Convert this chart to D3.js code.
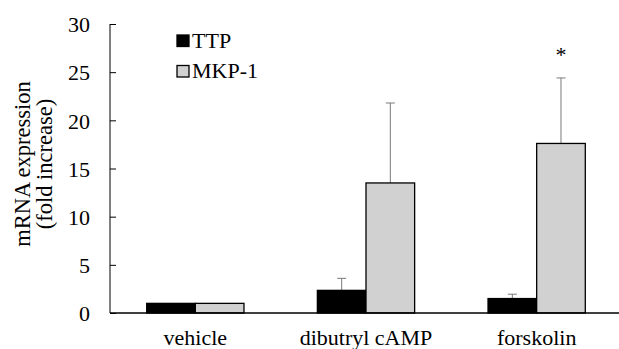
<!DOCTYPE html>
<meta charset="utf-8">
<script src="https://d3js.org/d3.v7.min.js"></script>
<style>
  body { margin: 0; background: #fff; }
  svg text { font-family: "Liberation Serif", "Times New Roman", serif; fill: #000; }
</style>
<div id="chart"></div>
<script>

// data
var groups = ["vehicle", "dibutryl cAMP", "forskolin"];
var series = ["TTP", "MKP-1"];
var ttp = [1.0, 2.35, 1.5];
var ttpErr = [0, 1.25, 0.45];
var mkp = [1.0, 13.5, 17.6];
var mkpErr = [0, 8.3, 6.8];
var yTicks = [0, 5, 10, 15, 20, 25, 30];
var stars = ["", "", "*"];

var colors = {"TTP": "#000000", "MKP-1": "#d0d1d0"};

var W = 619, H = 349;
var svg = d3.select("#chart").append("svg")
    .attr("width", W)
    .attr("height", H)
    .attr("font-family", "Liberation Serif");

// scales
var x = d3.scaleBand()
    .domain(groups)
    .range([110, 622])
    .paddingInner(0.43)
    .paddingOuter(0.215);

var xs = d3.scaleBand()
    .domain(series)
    .range([0, x.bandwidth()]);

var y = d3.scaleLinear()
    .domain([0, 30])
    .range([313, 24]);

// build rows for the bars
var rows = [];
groups.forEach(function(g, i) {
  rows.push({group: g, s: "TTP", v: ttp[i], e: ttpErr[i]});
  rows.push({group: g, s: "MKP-1", v: mkp[i], e: mkpErr[i]});
});

// error bars (drawn first so bar outline sits on top)
var eb = svg.append("g").selectAll("g")
  .data(rows.filter(function(d){ return d.e > 0 }))
  .enter().append("g")
    .attr("stroke", "#7a7a7a")
    .attr("stroke-width", 1);
eb.append("line")
    .attr("x1", function(d){ return x(d.group) + xs(d.s) + xs.bandwidth()/2 })
    .attr("x2", function(d){ return x(d.group) + xs(d.s) + xs.bandwidth()/2 })
    .attr("y1", function(d){ return y(d.v) })
    .attr("y2", function(d){ return y(d.v + d.e) });
eb.append("line")
    .attr("x1", function(d){ return x(d.group) + xs(d.s) + xs.bandwidth()/2 - 4.5 })
    .attr("x2", function(d){ return x(d.group) + xs(d.s) + xs.bandwidth()/2 + 4.5 })
    .attr("y1", function(d){ return y(d.v + d.e) })
    .attr("y2", function(d){ return y(d.v + d.e) });

// bars
svg.append("g").selectAll("rect")
  .data(rows)
  .enter().append("rect")
    .attr("x", function(d){ return x(d.group) + xs(d.s) })
    .attr("y", function(d){ return y(d.v) })
    .attr("width", xs.bandwidth())
    .attr("height", function(d){ return y(0) - y(d.v) })
    .attr("fill", function(d){ return colors[d.s] })
    .attr("stroke", "#000")
    .attr("stroke-width", 1.3);

// significance marks
svg.append("g").selectAll("text")
  .data(groups)
  .enter().append("text")
    .attr("x", function(d){ return x(d) + xs("MKP-1") + xs.bandwidth()/2 })
    .attr("y", function(d, i){ return y(mkp[i] + mkpErr[i]) - 16 })
    .attr("text-anchor", "middle")
    .style("font-size", "22px")
    .text(function(d, i){ return stars[i] });

// Y axis
var yAxis = svg.append("g")
    .attr("transform", "translate(110,0)")
    .call(d3.axisRight(y).tickValues(yTicks).tickSize(6).tickFormat(d3.format("d")));
yAxis.attr("font-family", null).attr("font-size", null);
yAxis.select(".domain").attr("d", "M0," + y(30) + "V" + y(0)).attr("stroke", "#000");
yAxis.selectAll(".tick line").attr("stroke", "#000");
yAxis.selectAll(".tick text")
    .attr("x", -20)
    .attr("text-anchor", "end")
    .attr("dy", "0.35em")
    .style("font-size", "22px");

// X axis
var xAxis = svg.append("g")
    .attr("transform", "translate(0," + y(0) + ")")
    .call(d3.axisBottom(x).tickSize(0));
xAxis.attr("font-family", null).attr("font-size", null);
xAxis.select(".domain").attr("d", "M110,0H619").attr("stroke", "#000").attr("stroke-width", 1.3);
xAxis.selectAll(".tick text")
    .attr("y", 32)
    .attr("dy", 0)
    .style("font-size", "22px");

// Y label
var yl = svg.append("text")
    .attr("transform", "translate(0,164) rotate(-90)")
    .attr("text-anchor", "middle")
    .style("font-size", "22.5px");
yl.append("tspan").attr("x", 0).attr("y", 30).text("mRNA expression");
yl.append("tspan").attr("x", 0).attr("y", 52).text("(fold increase)");

// legend
var leg = svg.append("g").selectAll("g")
  .data(series)
  .enter().append("g")
    .attr("transform", function(d, i){ return "translate(177," + (35 + i * 30.5) + ")" });
leg.append("rect")
    .attr("width", 12)
    .attr("height", 11.5)
    .attr("fill", function(d){ return colors[d] })
    .attr("stroke", "#000")
    .attr("stroke-width", 1.3);
leg.append("text")
    .attr("x", 15)
    .attr("y", 12.5)
    .style("font-size", "22px")
    .text(function(d){ return d });

</script>
